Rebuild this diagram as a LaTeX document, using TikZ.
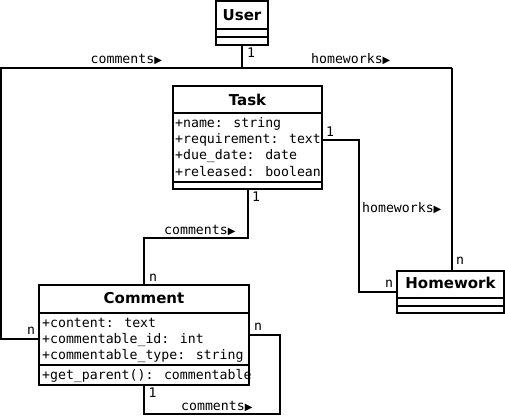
\documentclass[tikz,border=0pt]{standalone}
\usepackage{fontspec}
\usetikzlibrary{calc}
\newfontfamily\umltitle{DejaVu Sans}
\newfontfamily\umlmono{DejaVu Sans Mono}
\newfontfamily\umlsym{DejaVu Sans}
\newcommand\umltri{{\umlsym\fontsize{10}{10}\selectfont ▶}}
\tikzset{
  box/.style={draw, line width=2pt, inner sep=0pt, fill=white},
  sep/.style={line width=2pt},
  conn/.style={line width=2pt},
  ttl/.style={inner sep=0pt, font=\umltitle\bfseries\fontsize{15}{15}\selectfont},
  attr/.style={inner sep=0pt, anchor=base west, font=\umlmono\fontsize{13.2}{13.2}\selectfont},
  lbl/.style={inner sep=0pt, font=\umlmono\fontsize{13.2}{13.2}\selectfont},
}
\begin{document}
\begin{tikzpicture}[x=1pt,y=-1pt]
\useasboundingbox (0,0) rectangle (505,417);
% User
\node[box, minimum width=52pt, minimum height=44pt] (user) at (242,23) {};
\node[ttl] (usert) at (242,15) {User};
\draw[sep] (user.west |- 0,29) -- (user.east |- 0,29);
\draw[sep] (user.west |- 0,37) -- (user.east |- 0,37);
% Task
\node[box, minimum width=149pt, minimum height=103pt] (task) at (247.5,137.5) {};
\node[ttl] (taskt) at (247.5,99.5) {Task};
\draw[sep] (task.west |- 0,113) -- (task.east |- 0,113);
\draw[sep] (task.west |- 0,182) -- (task.east |- 0,182);
\node[attr] (ta1) at (175,127) {+name: string};
\node[attr] (ta2) at (175,143.3) {+requirement: text};
\node[attr] (ta3) at (175,159.6) {+due\_date: date};
\node[attr] (ta4) at (175,176) {+released: boolean};
% Homework
\node[box, minimum width=107pt, minimum height=42pt] (homework) at (450.5,292) {};
\node[ttl] (homeworkt) at (450.5,283) {Homework};
\draw[sep] (homework.west |- 0,298) -- (homework.east |- 0,298);
\draw[sep] (homework.west |- 0,306) -- (homework.east |- 0,306);
% Comment
\node[box, minimum width=210pt, minimum height=100pt] (comment) at (144,335) {};
\node[ttl] (commentt) at (144,298) {Comment};
\draw[sep] (comment.west |- 0,313) -- (comment.east |- 0,313);
\draw[sep] (comment.west |- 0,365) -- (comment.east |- 0,365);
\node[attr] (ca1) at (42,327) {+content: text};
\node[attr] (ca2) at (42,343) {+commentable\_id: int};
\node[attr] (ca3) at (42,359) {+commentable\_type: string};
\node[attr] (ca4) at (42,379) {+get\_parent(): commentable};
% connectors
\coordinate (topL) at (1,68);
\coordinate (topR) at (452,68);
\coordinate (hwbend) at (359,140);
\draw[conn] (user.south) -- (user.south |- topL);
\draw[conn] (topR) -- (topL) |- (comment.west |- 0,339);
\draw[conn] (topR) -- (homework.north -| topR);
\draw[conn] (task.south) -- ++(0,48) -| (comment.north);
\draw[conn] (task.east |- hwbend) -- (hwbend) |- (homework.west);
\draw[conn] (comment.east) -- ++(30,0) |- ($(comment.south)+(0,28)$) -- (comment.south);
% labels
\node[lbl] (m1) at (251,53) {1};
\node[lbl, anchor=base west] (l1) at (90.5,64) {comments\umltri};
\node[lbl, anchor=base west] (l2) at (311,64) {homeworks\umltri};
\node[lbl] (m2) at (330,132) {1};
\node[lbl, anchor=base west] (l3) at (362,212) {homeworks\umltri};
\node[lbl] (m3) at (389,284) {n};
\node[lbl] (m4) at (460,261) {n};
\node[lbl] (m5) at (256,197) {1};
\node[lbl, anchor=base west] (l4) at (164,234) {comments\umltri};
\node[lbl] (m6) at (153,278) {n};
\node[lbl] (m7) at (31,331) {n};
\node[lbl] (m8) at (258,327) {n};
\node[lbl] (m9) at (152.5,393) {1};
\node[lbl, anchor=base west] (l5) at (181,410) {comments\umltri};
\end{tikzpicture}
\end{document}
